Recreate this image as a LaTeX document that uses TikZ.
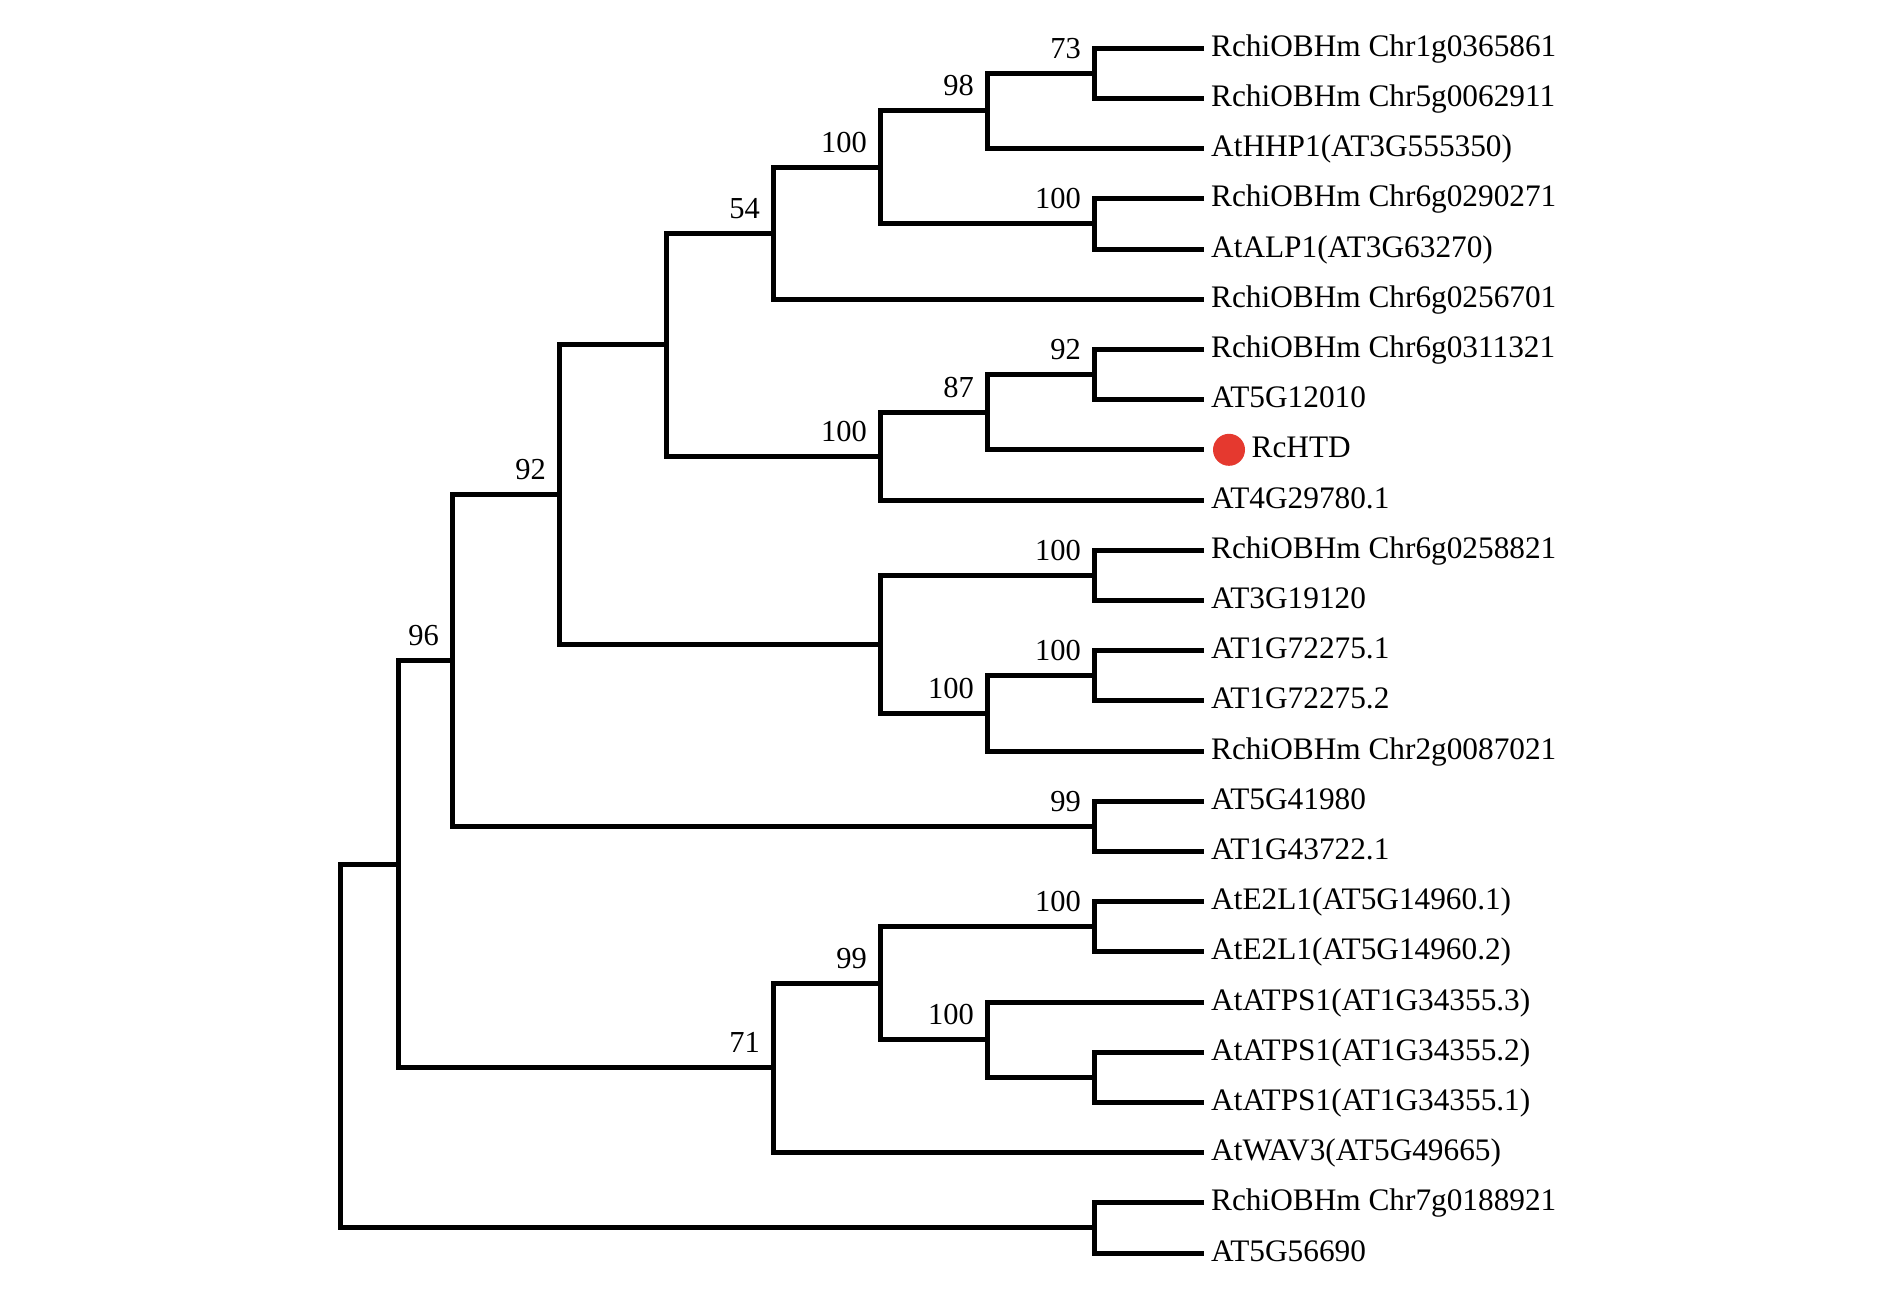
\documentclass[tikz,border=0pt]{standalone}
\usepackage{fontspec}
\setmainfont{Liberation Serif}
\definecolor{htdred}{RGB}{229,57,47}

\begin{document}
\begin{tikzpicture}[x=1pt,y=-50.2pt,
  branch/.style={line width=5pt},
  leaflab/.style={anchor=base west,inner sep=0pt,xshift=7pt,yshift=-8pt,font=\fontsize{31.3}{37}\selectfont},
  boot/.style={anchor=base east,inner sep=0pt,xshift=-13pt,yshift=15pt,font=\fontsize{30.5}{36}\selectfont}]
  \useasboundingbox (0,0.0398) rectangle (1890,25.9163);

  % leaves
  \foreach \i/\lab in {1/RchiOBHm Chr1g0365861, 2/RchiOBHm Chr5g0062911,
      3/AtHHP1(AT3G555350), 4/RchiOBHm Chr6g0290271, 5/AtALP1(AT3G63270),
      6/RchiOBHm Chr6g0256701, 7/RchiOBHm Chr6g0311321, 8/AT5G12010,
      10/AT4G29780.1, 11/RchiOBHm Chr6g0258821, 12/AT3G19120,
      13/AT1G72275.1, 14/AT1G72275.2, 15/RchiOBHm Chr2g0087021,
      16/AT5G41980, 17/AT1G43722.1, 18/AtE2L1(AT5G14960.1),
      19/AtE2L1(AT5G14960.2), 20/AtATPS1(AT1G34355.3),
      21/AtATPS1(AT1G34355.2), 22/AtATPS1(AT1G34355.1),
      23/AtWAV3(AT5G49665), 24/RchiOBHm Chr7g0188921, 25/AT5G56690}
  {
    \coordinate (l\i) at (1204,\i);
    \node[leaflab] (n\i) at (l\i) {\lab};
  }
  \coordinate (l9) at (1204,9);
  \path[fill=htdred] (1229,9) circle (16pt);
  \node[leaflab,xshift=40.5pt] (n9) at (l9) {RcHTD};

  % inner nodes
  \coordinate (M) at (1094,1.5);
  \coordinate (K) at (987,2.25);
  \coordinate (L) at (1094,4.5);
  \coordinate (J) at (880,3.375);
  \coordinate (H) at (773,4.6875);
  \coordinate (O) at (1094,7.5);
  \coordinate (N) at (987,8.25);
  \coordinate (I) at (880,9.125);
  \coordinate (F) at (666,6.90625);
  \coordinate (P) at (1094,11.5);
  \coordinate (S) at (1094,13.5);
  \coordinate (Q) at (987,14.25);
  \coordinate (G) at (880,12.875);
  \coordinate (D) at (559,9.890625);
  \coordinate (E) at (1094,16.5);
  \coordinate (B) at (452,13.1953);
  \coordinate (U) at (1094,18.5);
  \coordinate (W) at (1094,21.5);
  \coordinate (V) at (987,20.75);
  \coordinate (T) at (880,19.625);
  \coordinate (C) at (773,21.3125);
  \coordinate (A) at (398,17.2539);
  \coordinate (Z) at (1094,24.5);
  \coordinate (R) at (340,20.877);

  \draw[branch] (l1) -| (M) |- (l2);
  \draw[branch] (M) -| (K) |- (l3);
  \draw[branch] (l4) -| (L) |- (l5);
  \draw[branch] (K) -| (J) |- (L);
  \draw[branch] (J) -| (H) |- (l6);
  \draw[branch] (l7) -| (O) |- (l8);
  \draw[branch] (O) -| (N) |- (l9);
  \draw[branch] (N) -| (I) |- (l10);
  \draw[branch] (H) -| (F) |- (I);
  \draw[branch] (l11) -| (P) |- (l12);
  \draw[branch] (l13) -| (S) |- (l14);
  \draw[branch] (S) -| (Q) |- (l15);
  \draw[branch] (P) -| (G) |- (Q);
  \draw[branch] (F) -| (D) |- (G);
  \draw[branch] (l16) -| (E) |- (l17);
  \draw[branch] (D) -| (B) |- (E);
  \draw[branch] (l18) -| (U) |- (l19);
  \draw[branch] (l21) -| (W) |- (l22);
  \draw[branch] (l20) -| (V) |- (W);
  \draw[branch] (U) -| (T) |- (V);
  \draw[branch] (T) -| (C) |- (l23);
  \draw[branch] (B) -| (A) |- (C);
  \draw[branch] (l24) -| (Z) |- (l25);
  \draw[branch] (A) -| (R) |- (Z);

  % bootstrap values
  \node[boot] (sM) at (M) {73};
  \node[boot] (sK) at (K) {98};
  \node[boot] (sJ) at (J) {100};
  \node[boot] (sL) at (L) {100};
  \node[boot] (sH) at (H) {54};
  \node[boot] (sO) at (O) {92};
  \node[boot] (sN) at (N) {87};
  \node[boot] (sI) at (I) {100};
  \node[boot] (sD) at (D) {92};
  \node[boot] (sP) at (P) {100};
  \node[boot] (sS) at (S) {100};
  \node[boot] (sQ) at (Q) {100};
  \node[boot] (sE) at (E) {99};
  \node[boot] (sB) at (B) {96};
  \node[boot] (sU) at (U) {100};
  \node[boot] (sT) at (T) {99};
  \node[boot] (sV) at (V) {100};
  \node[boot] (sC) at (C) {71};
\end{tikzpicture}
\end{document}
